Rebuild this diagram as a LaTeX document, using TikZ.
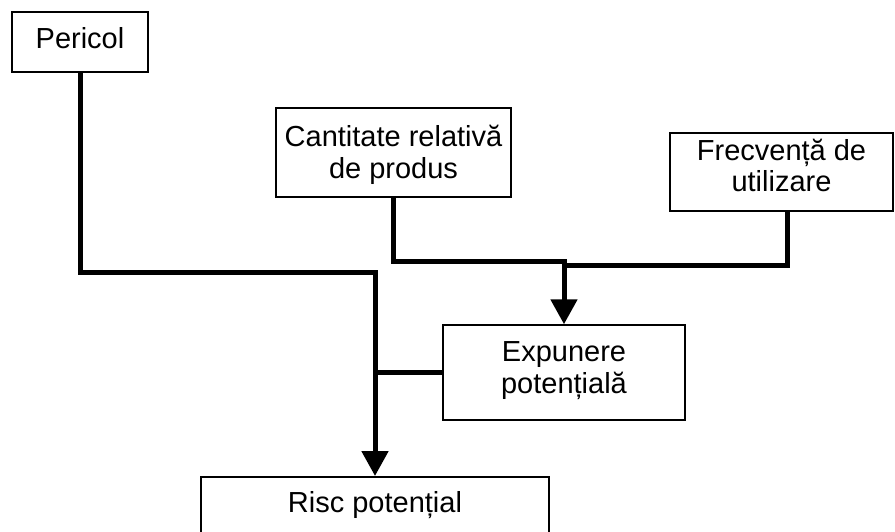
\documentclass[tikz,border=0pt]{standalone}
\usepackage{fontspec}
\setmainfont{Liberation Sans}
\usetikzlibrary{arrows.meta}
% invisible struts that adjust a line's height or depth
\newcommand{\lowstrut}[1]{\rule[-#1]{0pt}{0pt}}
\newcommand{\highstrut}[1]{\rule{0pt}{#1}}
\begin{document}
\begin{tikzpicture}[x=1pt,y=-1pt,
  box/.style={draw, line width=1.5pt, fill=white, inner sep=0pt, align=center,
    font=\fontsize{29}{31.6}\selectfont},
  link/.style={line width=5pt},
  arr/.style={line width=5pt, -{Triangle[width=26pt,length=25pt]}}]
\useasboundingbox (0,0) rectangle (895,531);
\clip (0,0) rectangle (895,531);

% boxes
\node[box, minimum width=136pt, minimum height=60pt] (pericol) at (80,42) {Pericol\lowstrut{9pt}};
\node[box, minimum width=235pt, minimum height=89pt] (cant) at (393.5,152.5) {\highstrut{26pt}Cantitate relativă\\de produs};
\node[box, minimum width=223pt, minimum height=78pt] (frec) at (781.5,172) {Frecvență de\\utilizare\lowstrut{13pt}};
\node[box, minimum width=242pt, minimum height=95pt] (expo) at (564,372.5) {Expunere\\potențială\lowstrut{10pt}};
\node[box, minimum width=348pt, text height=36pt, text depth=60pt, anchor=north] (risc) at (375,476) {Risc potențial};

% junction points
\coordinate (rjoin) at (375,272);
\coordinate (mjoin) at (564,261);
\coordinate (fjoin) at (564,265);

% connectors
\draw[arr] (pericol.south) |- (rjoin) -- (risc.north);
\draw[arr] (cant.south) |- (mjoin) -- (expo.north);
\draw[link] ([xshift=5.5pt]frec.south) |- (fjoin);
\draw[link] (expo.west) -- (expo.west -| rjoin);
\end{tikzpicture}
\end{document}
